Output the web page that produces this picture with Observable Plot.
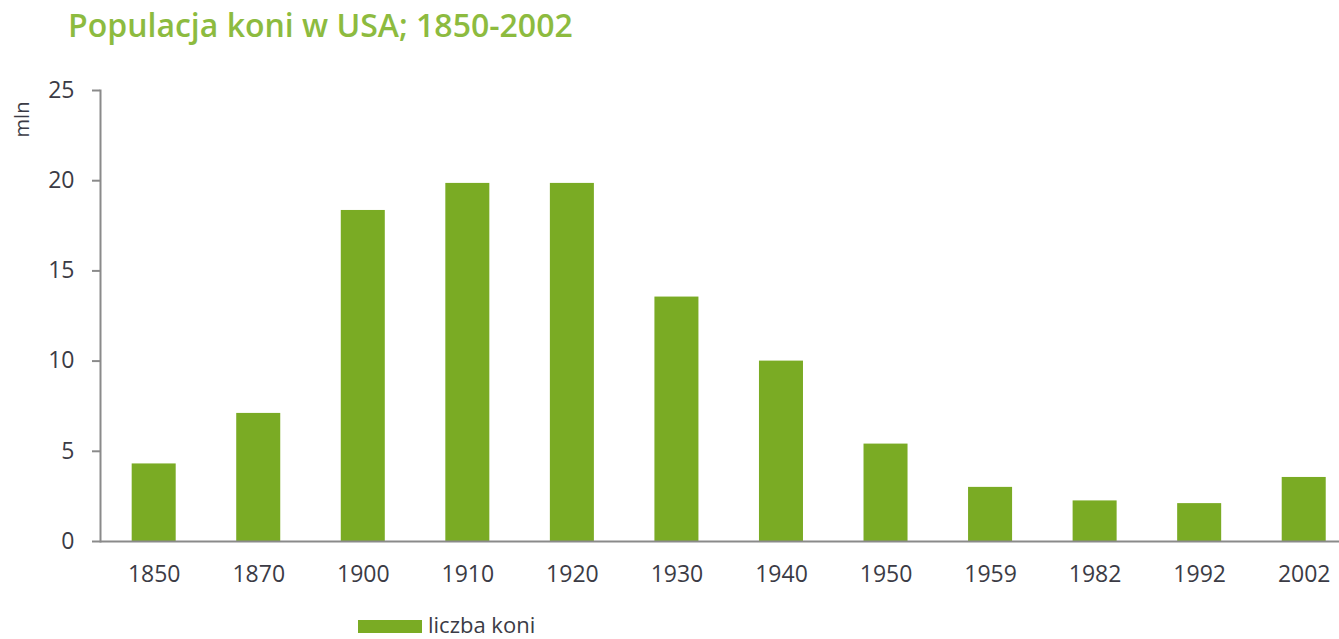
<!DOCTYPE html>
<html>
<head>
<meta charset="utf-8">
<script src="https://cdn.jsdelivr.net/npm/d3@7"></script>
<script src="https://cdn.jsdelivr.net/npm/@observablehq/plot@0.6"></script>
<style>
  html, body { margin: 0; padding: 0; background: #fff; overflow: hidden; }
  body { width: 1339px; height: 639px; position: relative; font-family: "Open Sans", sans-serif; }
  #title { position: absolute; left: 68px; top: 9px; font-size: 32px; line-height: 1; font-weight: 600; color: #8dbb3f; white-space: nowrap; }
  #chart { position: absolute; left: 0; top: 60px; }
  #legend { position: absolute; left: 358px; top: 613px; display: flex; align-items: center; font-size: 22px; line-height: 1; color: #3b3b45; white-space: nowrap; }
  #legend .sw { width: 64px; height: 13px; background: #7aab24; margin-right: 6px; margin-top: 4px; }
</style>
</head>
<body>
<div id="title">Populacja koni w USA; 1850-2002</div>
<div id="chart"></div>
<div id="legend"><span class="sw"></span><span>liczba koni</span></div>
<script>
const years = ["1850", "1870", "1900", "1910", "1920", "1930", "1940", "1950", "1959", "1982", "1992", "2002"];
const horses = [4.3, 7.1, 18.35, 19.85, 19.85, 13.55, 10.0, 5.4, 3.0, 2.25, 2.1, 3.55];
const yTicks = [0, 5, 10, 15, 20, 25];
const seriesName = "liczba koni";
const unitLabel = "mln";

const data = years.map((y, i) => ({year: y, value: horses[i], series: seriesName}));

const green = "#7aab24";
const axisGray = "#8a8a8a";

const chart = Plot.plot({
  width: 1339,
  height: 545,
  marginLeft: 100,
  marginRight: 0,
  marginTop: 30,
  marginBottom: 64,
  style: {fontFamily: "'Open Sans', sans-serif", fontSize: "23px", color: "#3b3b45", background: "white"},
  x: {domain: years, range: [100, 1357.4], paddingInner: 0.579, paddingOuter: 0.303, round: false, label: null},
  y: {domain: [0, 25], label: null},
  marks: [
    Plot.barY(data, {x: "year", y: "value", fill: green}),
    Plot.ruleY([0], {stroke: axisGray, strokeWidth: 2}),
    Plot.frame({anchor: "left", stroke: axisGray, strokeWidth: 2}),
    Plot.axisY({ticks: yTicks, tickSize: 8, tickPadding: 18, stroke: axisGray, strokeWidth: 2, label: null}),
    Plot.axisX({tickSize: 0, tickPadding: 24, label: null}),
    Plot.text([unitLabel], {frameAnchor: "top-left", rotate: -90, dx: -78, dy: 29, textAnchor: "middle", lineAnchor: "middle", fontSize: 20, fill: "#3b3b45"})
  ]
});
document.getElementById("chart").appendChild(chart);
</script>
</body>
</html>
